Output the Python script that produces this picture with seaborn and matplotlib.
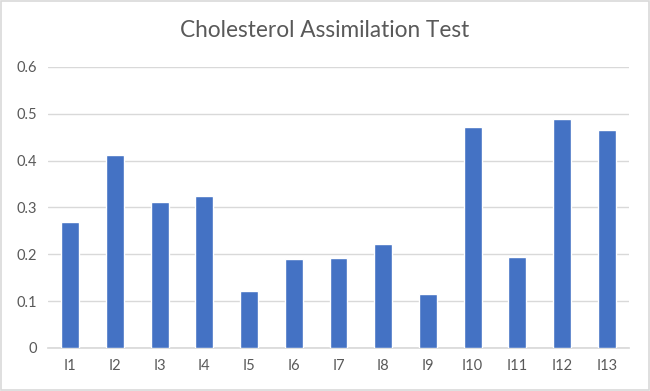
import matplotlib
matplotlib.use("Agg")
import matplotlib.pyplot as plt
import seaborn as sns
import pandas as pd

# values
isolates = ['I1', 'I2', 'I3', 'I4', 'I5', 'I6', 'I7', 'I8', 'I9', 'I10', 'I11', 'I12', 'I13']
assimilation = [0.268, 0.412, 0.311, 0.324, 0.121, 0.189, 0.193, 0.222, 0.115, 0.471, 0.194, 0.488, 0.466]

df = pd.DataFrame({'isolate': isolates, 'value': assimilation})

sns.set_theme(style='white')
plt.rcParams['font.family'] = ['Lato', 'DejaVu Sans']

fig = plt.figure(figsize=(6.5, 3.91), dpi=100)
ax = fig.add_axes([0.0738, 0.110, 0.894, 0.719])

sns.barplot(data=df, x='isolate', y='value', color='#4472C4', width=0.4,
            saturation=1, ax=ax, zorder=3)

ax.set_ylim(0, 0.6)
ax.set_yticks([0, 0.1, 0.2, 0.3, 0.4, 0.5, 0.6])
ax.set_yticklabels(['0', '0.1', '0.2', '0.3', '0.4', '0.5', '0.6'])
ax.yaxis.grid(True, color='#D9D9D9', linewidth=1)
ax.set_axisbelow(True)
for s in ['top', 'right', 'left']:
    ax.spines[s].set_visible(False)
ax.spines['bottom'].set_color('#D9D9D9')
ax.tick_params(axis='both', length=0, labelsize=10.5, labelcolor='#595959', pad=8)
ax.set_xlabel('')
ax.set_ylabel('')

fig.suptitle('Cholesterol Assimilation Test', y=0.95, fontsize=16.3, color='#595959')

# light outer border like the spreadsheet chart frame
fig.patches.append(plt.Rectangle((0.001, 0.002), 0.997, 0.995, transform=fig.transFigure,
                                 fill=False, edgecolor='#D9D9D9', linewidth=1.2))

fig.savefig('out.png', dpi=100)
